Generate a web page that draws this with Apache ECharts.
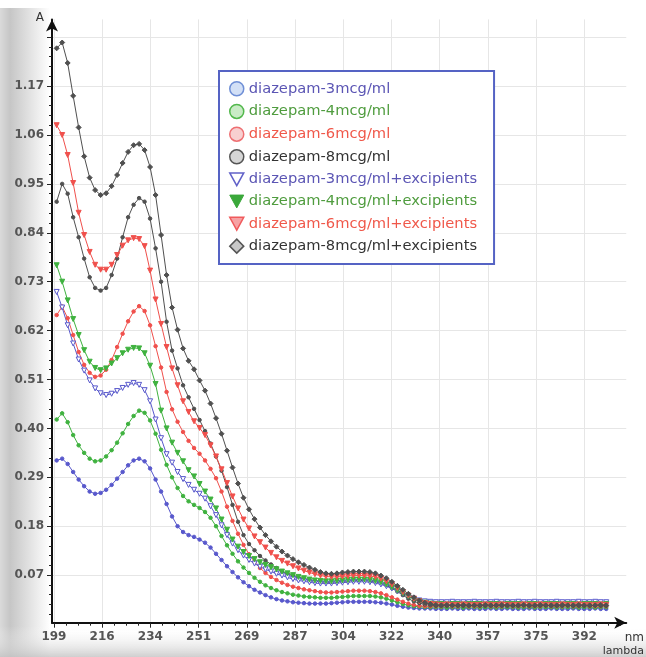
<!DOCTYPE html>
<html>
<head>
<meta charset="utf-8">
<title>diazepam UV spectra</title>
<script src="https://cdn.jsdelivr.net/npm/echarts@6/dist/echarts.min.js"></script>
<style>
  html, body { margin: 0; padding: 0; background: #fff; }
  #chart { width: 646px; height: 657px; }
</style>
</head>
<body>
<div id="chart"></div>
<script>
// 波长 nm
const wavelengths = [
  200, 202, 204, 206, 208, 210, 212, 214, 216, 218,
  220, 222, 224, 226, 228, 230, 232, 234, 236, 238,
  240, 242, 244, 246, 248, 250, 252, 254, 256, 258,
  260, 262, 264, 266, 268, 270, 272, 274, 276, 278,
  280, 282, 284, 286, 288, 290, 292, 294, 296, 298,
  300, 302, 304, 306, 308, 310, 312, 314, 316, 318,
  320, 322, 324, 326, 328, 330, 332, 334, 336, 338,
  340, 342, 344, 346, 348, 350, 352, 354, 356, 358,
  360, 362, 364, 366, 368, 370, 372, 374, 376, 378,
  380, 382, 384, 386, 388, 390, 392, 394, 396, 398,
  400,
]

const seriesNames = [
  'diazepam-3mcg/ml',
  'diazepam-4mcg/ml',
  'diazepam-6mcg/ml',
  'diazepam-8mcg/ml',
  'diazepam-3mcg/ml+excipients',
  'diazepam-4mcg/ml+excipients',
  'diazepam-6mcg/ml+excipients',
  'diazepam-8mcg/ml+excipients',
]

// 吸光度 A
const dz3 = [
  0.328, 0.332, 0.320, 0.302, 0.285, 0.270, 0.258, 0.253, 0.255, 0.262,
  0.273, 0.287, 0.302, 0.317, 0.328, 0.332, 0.326, 0.310, 0.285, 0.258,
  0.230, 0.202, 0.180, 0.167, 0.160, 0.156, 0.150, 0.143, 0.132, 0.118,
  0.104, 0.090, 0.077, 0.065, 0.054, 0.045, 0.037, 0.031, 0.025, 0.020,
  0.016, 0.013, 0.011, 0.009, 0.008, 0.007, 0.006, 0.006, 0.006, 0.006,
  0.007, 0.008, 0.009, 0.010, 0.010, 0.010, 0.010, 0.010, 0.009, 0.008,
  0.006, 0.004, 0.001, -0.001, -0.003, -0.004, -0.005, -0.005, -0.005, -0.006,
  -0.006, -0.006, -0.005, -0.006, -0.006, -0.005, -0.006, -0.006, -0.006, -0.005,
  -0.006, -0.006, -0.005, -0.006, -0.006, -0.006, -0.005, -0.006, -0.006, -0.006,
  -0.005, -0.006, -0.006, -0.006, -0.005, -0.006, -0.006, -0.006, -0.005, -0.006,
  -0.006,
]
const dz4 = [
  0.420, 0.434, 0.414, 0.385, 0.362, 0.345, 0.332, 0.326, 0.328, 0.337,
  0.351, 0.368, 0.389, 0.410, 0.428, 0.440, 0.435, 0.418, 0.388, 0.352,
  0.318, 0.290, 0.266, 0.248, 0.236, 0.228, 0.221, 0.212, 0.199, 0.180,
  0.158, 0.137, 0.118, 0.101, 0.087, 0.075, 0.064, 0.055, 0.047, 0.041,
  0.036, 0.032, 0.029, 0.026, 0.024, 0.022, 0.021, 0.020, 0.019, 0.019,
  0.019, 0.020, 0.021, 0.022, 0.023, 0.023, 0.023, 0.023, 0.022, 0.020,
  0.017, 0.013, 0.009, 0.005, 0.002, 0.000, -0.001, -0.002, -0.002, -0.002,
  -0.002, -0.003, -0.002, -0.002, -0.003, -0.002, -0.002, -0.003, -0.002, -0.002,
  -0.003, -0.002, -0.002, -0.002, -0.003, -0.002, -0.002, -0.003, -0.002, -0.002,
  -0.002, -0.003, -0.002, -0.002, -0.002, -0.003, -0.002, -0.002, -0.003, -0.002,
  -0.002,
]
const dz6 = [
  0.655, 0.674, 0.648, 0.610, 0.572, 0.543, 0.525, 0.516, 0.519, 0.532,
  0.554, 0.583, 0.613, 0.641, 0.663, 0.675, 0.664, 0.632, 0.585, 0.537,
  0.482, 0.443, 0.415, 0.392, 0.372, 0.356, 0.343, 0.328, 0.309, 0.288,
  0.258, 0.224, 0.192, 0.163, 0.138, 0.117, 0.100, 0.086, 0.075, 0.066,
  0.059, 0.053, 0.048, 0.044, 0.041, 0.038, 0.036, 0.034, 0.032, 0.031,
  0.031, 0.032, 0.033, 0.034, 0.035, 0.035, 0.035, 0.034, 0.032, 0.029,
  0.025, 0.020, 0.015, 0.010, 0.006, 0.003, 0.001, 0.000, 0.000, 0.000,
  0.000, 0.001, 0.000, 0.000, 0.001, 0.000, 0.000, 0.000, 0.001, 0.000,
  0.000, 0.000, 0.001, 0.000, 0.000, 0.001, 0.000, 0.000, 0.000, 0.001,
  0.000, 0.000, 0.000, 0.001, 0.000, 0.000, 0.001, 0.000, 0.000, 0.000,
  0.000,
]
const dz8 = [
  0.910, 0.950, 0.928, 0.875, 0.830, 0.782, 0.740, 0.716, 0.710, 0.716,
  0.745, 0.782, 0.830, 0.875, 0.903, 0.918, 0.910, 0.872, 0.805, 0.730,
  0.640, 0.575, 0.535, 0.497, 0.470, 0.444, 0.419, 0.394, 0.366, 0.337,
  0.305, 0.268, 0.228, 0.190, 0.160, 0.140, 0.126, 0.113, 0.103, 0.094,
  0.086, 0.079, 0.073, 0.068, 0.064, 0.061, 0.058, 0.056, 0.055, 0.054,
  0.054, 0.055, 0.056, 0.057, 0.058, 0.058, 0.058, 0.057, 0.055, 0.052,
  0.047, 0.041, 0.033, 0.025, 0.017, 0.011, 0.007, 0.004, 0.002, 0.001,
  0.001, 0.001, 0.002, 0.001, 0.001, 0.001, 0.002, 0.001, 0.001, 0.001,
  0.002, 0.001, 0.001, 0.001, 0.001, 0.002, 0.001, 0.001, 0.001, 0.002,
  0.001, 0.001, 0.001, 0.002, 0.001, 0.001, 0.001, 0.001, 0.002, 0.001,
  0.001,
]
const dz3ex = [
  0.707, 0.672, 0.632, 0.591, 0.555, 0.530, 0.508, 0.490, 0.479, 0.475,
  0.478, 0.484, 0.491, 0.498, 0.502, 0.498, 0.486, 0.461, 0.420, 0.378,
  0.342, 0.323, 0.302, 0.286, 0.273, 0.262, 0.253, 0.242, 0.225, 0.205,
  0.182, 0.160, 0.141, 0.126, 0.114, 0.104, 0.096, 0.089, 0.083, 0.078,
  0.073, 0.069, 0.065, 0.061, 0.058, 0.056, 0.054, 0.052, 0.051, 0.051,
  0.051, 0.052, 0.053, 0.054, 0.055, 0.055, 0.055, 0.054, 0.052, 0.049,
  0.045, 0.040, 0.034, 0.028, 0.022, 0.017, 0.013, 0.011, 0.010, 0.009,
  0.009, 0.009, 0.010, 0.009, 0.009, 0.009, 0.010, 0.009, 0.009, 0.009,
  0.010, 0.009, 0.009, 0.009, 0.010, 0.009, 0.009, 0.010, 0.009, 0.009,
  0.009, 0.010, 0.009, 0.009, 0.009, 0.010, 0.009, 0.009, 0.010, 0.009,
  0.009,
]
const dz4ex = [
  0.767, 0.730, 0.688, 0.646, 0.610, 0.576, 0.550, 0.536, 0.531, 0.535,
  0.546, 0.558, 0.569, 0.577, 0.581, 0.580, 0.569, 0.541, 0.500, 0.440,
  0.400, 0.368, 0.345, 0.326, 0.306, 0.292, 0.275, 0.258, 0.240, 0.220,
  0.195, 0.172, 0.150, 0.134, 0.122, 0.113, 0.106, 0.099, 0.093, 0.088,
  0.083, 0.078, 0.074, 0.070, 0.066, 0.063, 0.060, 0.058, 0.057, 0.056,
  0.056, 0.057, 0.058, 0.059, 0.060, 0.060, 0.060, 0.059, 0.057, 0.054,
  0.049, 0.043, 0.036, 0.029, 0.022, 0.016, 0.011, 0.008, 0.006, 0.005,
  0.005, 0.004, 0.005, 0.005, 0.004, 0.005, 0.005, 0.005, 0.004, 0.005,
  0.005, 0.004, 0.005, 0.005, 0.005, 0.004, 0.005, 0.005, 0.004, 0.005,
  0.005, 0.005, 0.004, 0.005, 0.005, 0.004, 0.005, 0.005, 0.005, 0.004,
  0.005,
]
const dz6ex = [
  1.082, 1.060, 1.015, 0.952, 0.885, 0.835, 0.797, 0.768, 0.757, 0.757,
  0.768, 0.790, 0.811, 0.823, 0.828, 0.826, 0.810, 0.755, 0.690, 0.635,
  0.583, 0.535, 0.497, 0.461, 0.437, 0.416, 0.401, 0.385, 0.362, 0.337,
  0.308, 0.277, 0.247, 0.220, 0.195, 0.175, 0.157, 0.144, 0.132, 0.120,
  0.110, 0.102, 0.096, 0.090, 0.085, 0.080, 0.076, 0.072, 0.069, 0.067,
  0.066, 0.066, 0.067, 0.068, 0.069, 0.069, 0.069, 0.068, 0.066, 0.062,
  0.056, 0.049, 0.041, 0.032, 0.024, 0.017, 0.011, 0.007, 0.005, 0.004,
  0.003, 0.004, 0.003, 0.003, 0.004, 0.003, 0.003, 0.003, 0.004, 0.003,
  0.003, 0.004, 0.003, 0.003, 0.003, 0.004, 0.003, 0.003, 0.004, 0.003,
  0.003, 0.003, 0.004, 0.003, 0.003, 0.004, 0.003, 0.003, 0.003, 0.004,
  0.003,
]
const dz8ex = [
  1.255, 1.268, 1.222, 1.148, 1.077, 1.012, 0.964, 0.936, 0.925, 0.929,
  0.945, 0.970, 0.997, 1.022, 1.037, 1.040, 1.026, 0.988, 0.925, 0.835,
  0.745, 0.672, 0.622, 0.580, 0.552, 0.533, 0.508, 0.485, 0.456, 0.423,
  0.388, 0.350, 0.312, 0.276, 0.244, 0.218, 0.196, 0.177, 0.160, 0.146,
  0.134, 0.123, 0.114, 0.106, 0.099, 0.093, 0.087, 0.082, 0.077, 0.074,
  0.073, 0.074, 0.076, 0.077, 0.078, 0.078, 0.078, 0.077, 0.074, 0.069,
  0.063, 0.055, 0.046, 0.037, 0.028, 0.020, 0.013, 0.008, 0.005, 0.003,
  0.002, 0.003, 0.002, 0.002, 0.003, 0.002, 0.002, 0.002, 0.003, 0.002,
  0.002, 0.003, 0.002, 0.002, 0.002, 0.003, 0.002, 0.002, 0.003, 0.002,
  0.002, 0.002, 0.003, 0.002, 0.002, 0.003, 0.002, 0.002, 0.002, 0.003,
  0.002,
]
const seriesValues = [dz3, dz4, dz6, dz8, dz3ex, dz4ex, dz6ex, dz8ex]

// 坐标轴刻度
const xTickValues = [199, 216.55, 234.1, 251.65, 269.2, 286.75, 304.3, 321.85, 339.4, 356.95, 374.5, 392.05]
const xTickLabels = ['199', '216', '234', '251', '269', '287', '304', '322', '340', '357', '375', '392']
const yTickValues = [0.07, 0.18, 0.29, 0.40, 0.51, 0.62, 0.73, 0.84, 0.95, 1.06, 1.17, 1.28]
const yTickLabels = ['0.07', '0.18', '0.29', '0.40', '0.51', '0.62', '0.73', '0.84', '0.95', '1.06', '1.17', '']

;(function () {
  const X_MIN = 198.3
  const X_MAX = 407.3
  const Y_MIN = -0.037
  const Y_MAX = 1.32
  const FONT = 'DejaVu Sans'

  const blue = '#5858cc'
  const green = '#3fb23f'
  const red = '#f0504c'
  const gray = '#505050'

  // 每条线的样式
  const styles = [
    { line: blue, fill: blue, symbol: 'circle', size: 3.5 },
    { line: green, fill: green, symbol: 'circle', size: 3.5 },
    { line: red, fill: red, symbol: 'circle', size: 3.5 },
    { line: gray, fill: gray, symbol: 'circle', size: 3.5 },
    { line: blue, fill: '#ffffff', symbol: 'triangle', size: 5, rotate: 180 },
    { line: green, fill: green, symbol: 'triangle', size: 5, rotate: 180 },
    { line: red, fill: red, symbol: 'triangle', size: 5, rotate: 180 },
    { line: gray, fill: gray, symbol: 'diamond', size: 5 },
  ]
  const downTriangle = 'path://M0,0L12,0L6,11Z'
  const legendIcons = ['circle', 'circle', 'circle', 'circle', downTriangle, downTriangle, downTriangle, 'diamond']
  const legendIconStyles = [
    { color: '#d3e0f6', borderColor: '#6f8fd6', borderWidth: 1.5 },
    { color: '#c9ebc6', borderColor: '#52b84c', borderWidth: 1.5 },
    { color: '#f8cfd0', borderColor: '#ee6f72', borderWidth: 1.5 },
    { color: '#d6d6d6', borderColor: '#555555', borderWidth: 1.5 },
    { color: '#ffffff', borderColor: '#6161c8', borderWidth: 1.5 },
    { color: '#3aa83a', borderColor: '#3aa83a', borderWidth: 1 },
    { color: '#f6a2a4', borderColor: '#f05a5c', borderWidth: 1.5 },
    { color: '#c8c8c8', borderColor: '#555555', borderWidth: 1.5 },
  ]
  const legendTextColors = ['#5b55b4', '#4f9c3e', '#f0584a', '#333333', '#5b55b4', '#4f9c3e', '#f0584a', '#333333']

  // 次刻度
  const xStep = xTickValues[1] - xTickValues[0]
  const xMinor = []
  for (let t = xTickValues[0] - xStep; t < X_MAX; t += xStep) {
    for (let k = 1; k < 4; k++) {
      const v = t + (k * xStep) / 4
      if (v > X_MIN && v < X_MAX) xMinor.push(+v.toFixed(3))
    }
  }
  const yStep = 0.11
  const yMinor = []
  for (let t = yTickValues[0] - yStep; t < Y_MAX; t += yStep) {
    for (let k = 1; k < 5; k++) {
      const v = t + (k * yStep) / 5
      if (v > Y_MIN && v < Y_MAX) yMinor.push(+v.toFixed(4))
    }
  }

  const labelStyle = {
    color: '#555',
    fontFamily: FONT,
    fontSize: 12,
    fontWeight: 'bold',
  }

  let myChart = echarts.init(document.getElementById('chart'))
  let options = {
    animation: false,
    grid: {
      left: 52,
      right: 6,
      top: 19.4,
      bottom: 34.3,
      show: true,
      backgroundColor: '#ffffff',
      borderWidth: 0,
    },
    graphic: [
      {
        type: 'rect',
        z: -1,
        silent: true,
        shape: { x: 0, y: 8, width: 50, height: 649 },
        style: {
          fill: new echarts.graphic.LinearGradient(0, 0, 1, 0, [
            { offset: 0, color: '#dadada' },
            { offset: 0.2, color: '#c6c6c6' },
            { offset: 0.55, color: '#dfdfdf' },
            { offset: 1, color: '#ffffff' },
          ]),
        },
      },
      {
        type: 'rect',
        z: -1,
        silent: true,
        shape: { x: 0, y: 626, width: 646, height: 31 },
        style: {
          fill: new echarts.graphic.LinearGradient(0, 0, 0, 1, [
            { offset: 0, color: 'rgba(255,255,255,0)' },
            { offset: 1, color: 'rgba(195,195,195,0.8)' },
          ]),
        },
      },
    ],
    legend: {
      orient: 'vertical',
      left: 219,
      top: 71,
      padding: [10, 17, 10, 10],
      itemWidth: 14,
      itemHeight: 14,
      itemGap: 7.2,
      backgroundColor: '#ffffff',
      borderColor: '#5563c4',
      borderWidth: 2,
      textStyle: {
        fontFamily: FONT,
        fontSize: 14.7,
      },
      data: seriesNames.map((name, i) => ({
        name: name,
        icon: legendIcons[i],
        itemStyle: legendIconStyles[i],
        textStyle: { color: legendTextColors[i] },
      })),
    },
    xAxis: [
      {
        type: 'value',
        min: X_MIN,
        max: X_MAX,
        name: '{a|nm}\n{b|lambda}',
        nameLocation: 'end',
        nameGap: 6,
        nameTextStyle: {
          align: 'right',
          verticalAlign: 'top',
          padding: [8, 0, 0, 0],
          rich: {
            a: { fontFamily: FONT, fontSize: 12, color: '#333', lineHeight: 14, align: 'right' },
            b: { fontFamily: FONT, fontSize: 11, color: '#333', lineHeight: 13, align: 'right' },
          },
        },
        axisLine: {
          onZero: false,
          symbol: ['none', 'arrow'],
          symbolSize: [9, 12],
          lineStyle: { color: '#111', width: 2 },
        },
        axisTick: {
          customValues: xTickValues,
          length: 5,
          lineStyle: { color: '#222', width: 1 },
        },
        axisLabel: {
          customValues: xTickValues,
          margin: 8,
          ...labelStyle,
          formatter: function (value) {
            const idx = xTickValues.findIndex((v) => Math.abs(v - value) < 0.01)
            return idx >= 0 ? xTickLabels[idx] : ''
          },
        },
        splitLine: {
          show: true,
          lineStyle: { color: '#e6e6e6', width: 1 },
        },
      },
      {
        // 次刻度
        type: 'value',
        min: X_MIN,
        max: X_MAX,
        position: 'bottom',
        axisLine: { show: false, onZero: false },
        axisTick: {
          customValues: xMinor,
          length: 3,
          lineStyle: { color: '#222', width: 1 },
        },
        axisLabel: { show: false },
        splitLine: { show: false },
      },
    ],
    yAxis: [
      {
        type: 'value',
        min: Y_MIN,
        max: Y_MAX,
        name: 'A',
        nameLocation: 'end',
        nameGap: 2,
        nameTextStyle: {
          align: 'right',
          verticalAlign: 'middle',
          padding: [0, 8, 0, 0],
          color: '#333',
          fontFamily: FONT,
          fontSize: 12,
        },
        axisLine: {
          onZero: false,
          symbol: ['none', 'arrow'],
          symbolSize: [9, 12],
          lineStyle: { color: '#111', width: 2 },
        },
        axisTick: {
          customValues: yTickValues,
          length: 5,
          lineStyle: { color: '#222', width: 1 },
        },
        axisLabel: {
          customValues: yTickValues,
          margin: 8,
          ...labelStyle,
          formatter: function (value) {
            const idx = yTickValues.findIndex((v) => Math.abs(v - value) < 0.001)
            return idx >= 0 ? yTickLabels[idx] : ''
          },
        },
        splitLine: {
          show: true,
          lineStyle: { color: '#e6e6e6', width: 1 },
        },
      },
      {
        // 次刻度
        type: 'value',
        min: Y_MIN,
        max: Y_MAX,
        position: 'left',
        axisLine: { show: false, onZero: false },
        axisTick: {
          customValues: yMinor,
          length: 3,
          lineStyle: { color: '#222', width: 1 },
        },
        axisLabel: { show: false },
        splitLine: { show: false },
      },
    ],
    series: seriesNames.map((name, i) => ({
      name: name,
      type: 'line',
      xAxisIndex: 0,
      yAxisIndex: 0,
      data: wavelengths.map((w, j) => [w, seriesValues[i][j]]),
      symbol: styles[i].symbol,
      symbolSize: styles[i].size,
      symbolRotate: styles[i].rotate || 0,
      showAllSymbol: true,
      lineStyle: { color: styles[i].line, width: 1 },
      itemStyle: {
        color: styles[i].fill,
        borderColor: styles[i].line,
        borderWidth: 1,
      },
      emphasis: { disabled: true },
    })),
  }
  myChart.setOption(options)
  window.addEventListener('resize', () => {
    myChart.resize()
  })
})()
</script>
</body>
</html>
